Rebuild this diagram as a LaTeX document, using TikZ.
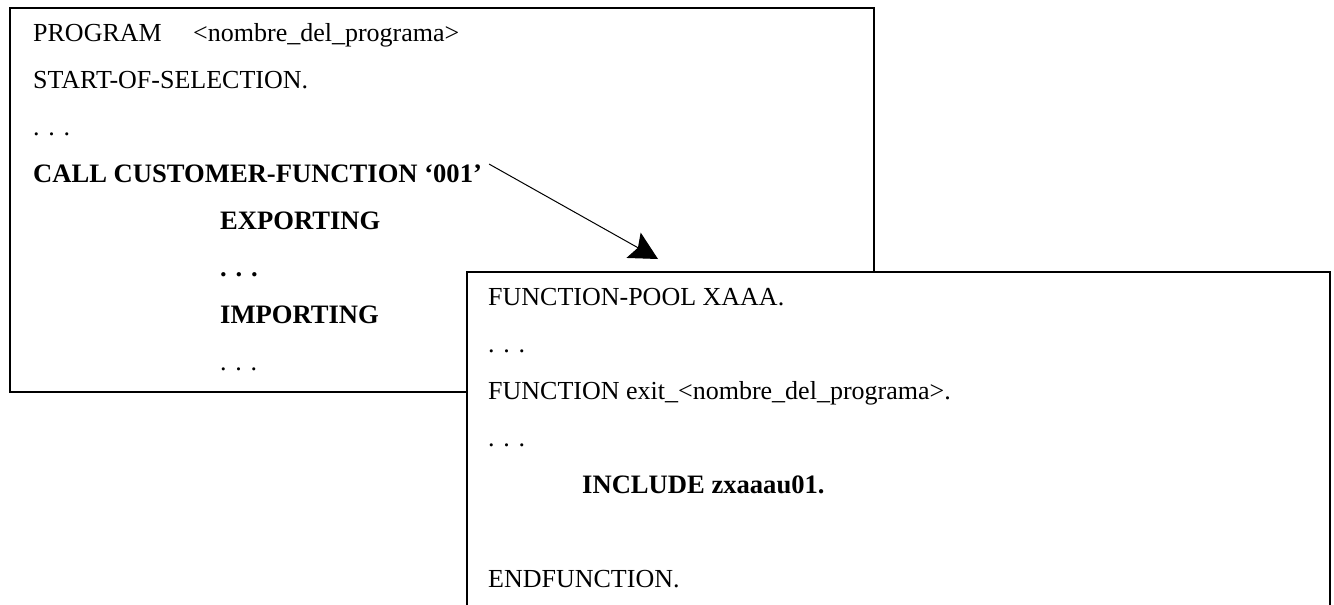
\documentclass[tikz,border=0pt]{standalone}
\usepackage{fontspec}
\setmainfont{Liberation Serif}
\usetikzlibrary{arrows.meta}
\begin{document}
\begin{tikzpicture}[x=1pt,y=-1pt,
  panel/.style={draw=black, line width=1.6pt, fill=white},
  codeline/.style={anchor=base west, inner sep=0pt, font=\fontsize{26}{31}\selectfont},
  boldline/.style={codeline, font=\fontsize{26.6}{31}\selectfont\bfseries},
  callarrow/.style={line width=1pt, -{Stealth[length=28pt,width=29pt,inset=5pt]}}]
\useasboundingbox (0,0) rectangle (1334,605);
\clip (0,0) rectangle (1334,605);

% calling program
\draw[panel] (10,8) rectangle (874,392);
\node[codeline] (prog)     at (33,41)  {PROGRAM};
\node[codeline] (progname) at (193,41) {<nombre\_del\_programa>};
\node[codeline] (start)    at (33,88)  {START-OF-SELECTION.};
\node[codeline] (dotsa)    at (33,135) {. . .};
\node[boldline] (call)     at (33,182) {CALL CUSTOMER-FUNCTION ‘001’};
\node[boldline] (export)   at (220,229) {EXPORTING};
\node[boldline] (dotsb)    at (220,276) {. . .};
\node[boldline] (import)   at (220,323) {IMPORTING};
\node[codeline] (dotsc)    at (220,370) {. . .};

% function module (runs past the lower edge)
\draw[panel] (467,272) rectangle (1330,640);
\node[codeline] (pool)    at (488,305) {FUNCTION-POOL XAAA.};
\node[codeline] (dotsd)   at (488,352) {. . .};
\node[codeline] (func)    at (488,399) {FUNCTION exit\_<nombre\_del\_programa>.};
\node[codeline] (dotse)   at (488,446) {. . .};
\node[boldline] (include) at (582,493) {INCLUDE zxaaau01.};
\node[codeline] (endfunc) at (488,587) {ENDFUNCTION.};

% call arrow
\coordinate (callend) at ([xshift=7pt]call.north east);
\coordinate (tip) at (658,259);
\draw[callarrow] (callend) -- (tip);
\end{tikzpicture}
\end{document}
